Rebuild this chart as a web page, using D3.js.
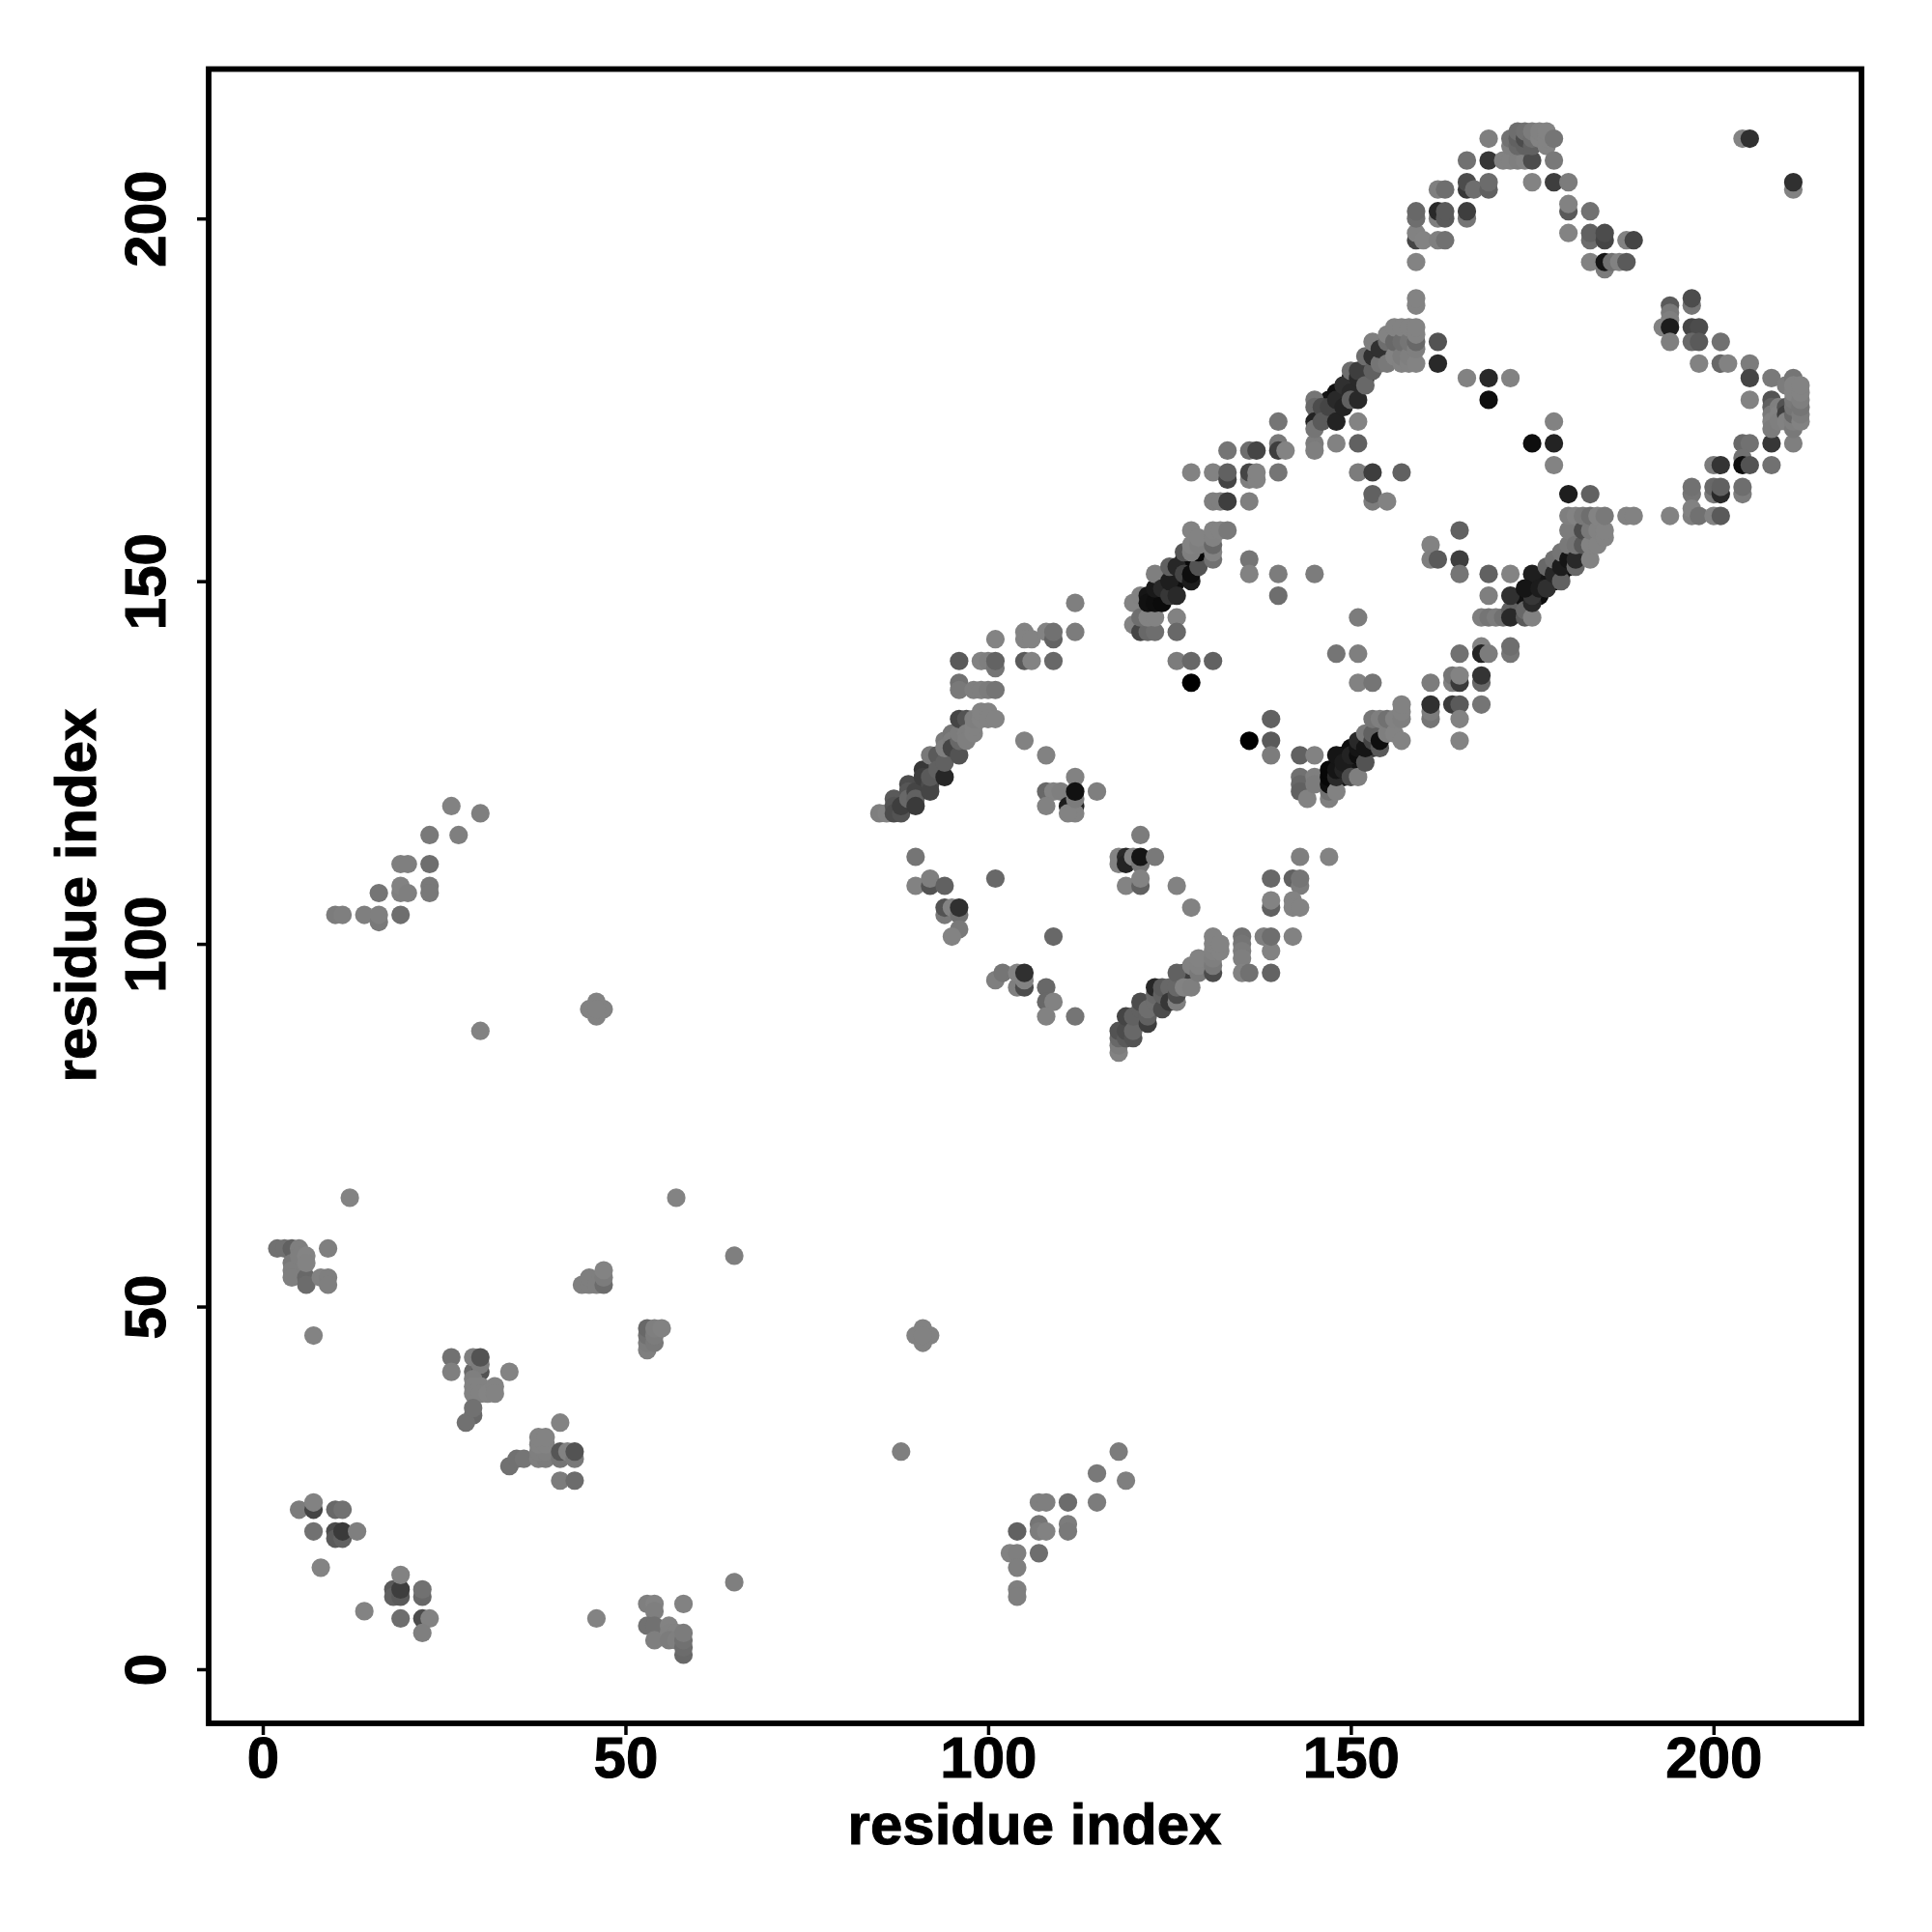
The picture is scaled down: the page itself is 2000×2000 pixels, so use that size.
<!DOCTYPE html>
<html><head><meta charset="utf-8">
<script src="https://cdn.jsdelivr.net/npm/d3@7"></script>
<style>html,body{margin:0;padding:0;background:#fff}svg{display:block}</style>
</head><body><svg id="c" width="2000" height="2000"></svg>
<script>
// each contact: [residue i, residue j, strength 0 (light) .. 100 (black)]
const lowLeftTop = [[12,65,5],[57,65,5],[2,58,18],[3,58,18],[4,58,30],[4,56,12],[4,55,8],[4,54,8],[6,54,25],[6,53,22],[8,54,6],[9,54,8],[9,53,8],[5,58,8],[5,57,8],[6,57,4],[6,56,5],[9,58,8],[7,46,5]];
const lowLeftBottom = [[5,22,10],[7,22,50],[7,23,6],[10,22,25],[11,22,18],[7,19,18],[10,19,45],[10,18,35],[11,18,30],[11,19,58],[13,19,8],[8,14,5],[14,8,5],[18,11,35],[18,10,30],[19,10,35],[19,11,55],[19,13,6],[22,10,25],[22,11,18],[19,7,20],[22,7,45],[23,7,6],[22,5,8],[46,7,5]];
const low30 = [[26,43,18],[26,41,8],[29,41,25],[29,43,8],[30,41,40],[30,42,10],[30,43,40],[34,41,5],[29,40,8],[29,39,6],[29,38,6],[30,39,6],[30,38,6],[31,38,4],[32,39,5],[32,38,5],[29,35,25],[28,34,18],[29,36,18]];
const low40 = [[34,28,18],[35,29,18],[36,29,15],[38,29,8],[39,29,10],[38,30,8],[39,30,8],[38,31,5],[39,31,5],[38,32,5],[39,32,5],[41,29,15],[41,30,38],[42,30,6],[43,29,12],[43,30,40],[41,26,10],[43,26,22],[41,34,5]];
const low50 = [[44,53,8],[45,53,8],[45,54,8],[46,53,8],[47,53,22],[47,54,10],[47,55,5],[53,44,8],[53,45,10],[53,46,18],[53,47,25],[54,45,12],[54,46,10],[54,47,8],[55,47,6]];
const low55 = [[53,9,8],[54,9,5],[54,8,8],[53,6,18],[54,6,18],[54,4,8],[56,6,5],[56,5,6],[57,5,6],[56,4,10],[57,4,8],[58,9,6],[58,2,25],[58,3,22],[58,4,18],[58,5,10],[65,12,8],[65,57,8]];
const farLeft = [[10,104,10],[11,104,8],[14,104,8],[16,103,12],[16,104,8],[16,107,15],[19,104,20],[19,107,8],[19,108,6],[19,111,8],[20,107,8],[20,111,8],[23,111,20],[23,108,12],[23,107,12],[23,115,12],[27,115,8],[26,119,6],[30,118,8],[30,88,6],[45,91,6],[47,91,6],[46,92,6],[46,90,6],[46,91,6]];
const farRight = [[88,30,8],[90,46,6],[92,46,6],[91,47,6],[91,45,6],[91,46,6],[104,19,30],[103,16,6],[104,16,8],[104,14,8],[104,11,8],[104,10,8],[107,23,8],[108,23,8],[107,20,15],[107,19,10],[108,19,6],[107,16,20],[111,23,22],[111,20,10],[111,19,12],[115,27,12],[115,23,10],[118,30,10],[119,26,8]];

const diag90 = [[85,118,8],[86,118,6],[87,120,35],[87,119,40],[87,118,45],[88,118,40],[88,119,55],[89,122,45],[89,121,38],[89,120,25],[90,121,50],[90,120,30],[90,119,58],[91,124,60],[91,123,55],[92,122,45],[92,121,50],[92,123,35],[93,125,35],[92,126,12],[93,126,35],[93,124,30],[94,123,72],[94,125,30],[94,128,12],[94,127,8],[95,129,15],[95,128,10],[95,127,50],[96,126,40],[96,128,25],[96,129,10],[96,131,50],[97,131,40],[97,129,8],[97,128,8],[98,129,6],[98,130,6],[98,131,8],[99,131,5],[99,132,5],[100,132,5],[100,131,5],[101,131,5]];
const top95 = [[96,139,35],[96,136,18],[96,135,12],[98,135,8],[99,135,8],[100,135,10],[101,135,15],[99,139,6],[100,139,8],[101,138,15],[101,139,28],[101,142,5],[105,143,5],[105,142,5],[106,142,5],[105,139,35],[106,139,5],[109,139,25],[108,143,5],[109,142,28],[109,143,18],[112,143,10],[112,147,8]];
const inner110 = [[105,128,6],[108,126,6],[112,123,6],[108,121,25],[109,121,5],[110,121,8],[111,119,80],[112,119,75],[112,118,5],[111,118,5],[112,120,10],[112,121,88],[115,121,8],[108,119,6],[90,112,15],[90,108,6],[92,108,40],[92,109,8],[94,108,30],[101,109,25],[94,104,12],[94,105,40],[95,105,5],[96,104,18],[96,105,65],[96,102,12],[95,101,5],[109,101,25]];
const lower100 = [[101,95,8],[102,96,15],[104,94,8],[104,96,5],[105,94,45],[105,95,5],[105,96,65],[108,94,25],[108,92,25],[109,92,6],[108,90,6],[112,90,15]];
const inner120 = [[118,112,5],[118,111,5],[119,112,70],[119,111,75],[120,112,6],[121,111,15],[121,112,85],[123,112,12],[121,115,10],[119,108,5],[121,108,30],[121,109,5],[126,108,6],[128,105,6]];
const right140 = [[139,109,25],[142,109,30],[143,108,10],[143,109,15],[143,112,8],[147,112,5],[139,105,30],[139,106,5],[142,106,5],[142,105,5],[143,105,5],[135,101,18],[135,100,15],[135,99,10],[135,98,8],[135,96,6],[136,96,18],[138,101,8],[139,99,6],[139,101,20],[142,101,6],[139,96,28]];
const diag120 = [[118,85,6],[118,86,10],[118,87,25],[118,88,40],[119,87,35],[119,88,45],[119,90,50],[120,87,40],[120,88,25],[120,90,30],[121,91,30],[121,92,45],[122,89,55],[122,90,30],[122,91,20],[123,92,20],[123,93,25],[123,94,72],[124,91,45],[124,93,30],[124,94,35],[125,94,25],[125,92,60],[127,96,55],[126,92,8],[126,93,45],[126,94,25],[126,96,30],[127,94,6],[128,94,8],[128,97,6],[129,96,12],[129,97,6],[129,98,5],[131,96,45],[131,97,12],[131,98,8],[131,99,6],[131,100,5],[131,101,5],[132,99,5],[132,100,5]];
const diag130 = [[127,153,90],[128,153,92],[127,152,90],[126,150,90],[125,149,90],[124,148,92],[128,152,92],[126,151,90],[129,153,85],[120,147,5],[121,148,6],[120,144,5],[121,143,50],[122,143,25],[123,143,20],[121,145,20],[122,145,5],[123,145,5],[122,148,85],[122,147,88],[123,147,90],[124,147,92],[123,149,82],[123,151,8],[124,149,70],[125,148,60],[125,150,78],[125,152,30],[126,148,70],[126,145,6],[126,143,25],[126,152,72],[127,151,50],[127,154,38],[128,150,80],[128,151,90],[129,152,40],[129,154,95],[128,154,8],[128,155,5],[128,157,5],[129,155,8],[129,156,5],[131,153,18],[131,154,6],[131,155,25],[131,156,6],[131,157,5],[132,157,5],[133,157,12]];
const block135 = [[126,139,10],[128,139,25],[131,139,30],[128,136,100],[133,168,15],[136,168,20],[137,168,50],[128,165,6],[131,165,6],[133,164,50],[133,165,30],[136,164,8],[136,165,50],[137,164,5],[137,165,5],[140,165,15],[131,161,8],[132,161,8],[133,161,55],[136,161,8],[136,153,15],[136,151,6],[140,151,10],[145,151,10],[140,148,20],[140,172,15],[140,169,12],[140,168,55],[141,168,5],[145,169,10],[145,168,8]];
const mid150 = [[148,169,6],[151,169,30],[151,165,10],[153,165,55],[157,165,30],[153,161,10],[153,162,30],[155,161,6],[151,145,10],[148,140,15],[151,140,8],[151,136,6],[153,136,15],[139,131,30],[136,128,100],[139,128,35],[139,126,10],[143,126,30],[145,126,6]];
const diag150 = [[149,126,90],[150,125,92],[150,127,90],[149,123,85],[151,125,85],[152,128,90],[153,127,60],[143,123,18],[143,122,25],[143,121,30],[144,120,6],[145,123,8],[145,122,10],[147,120,8],[147,121,18],[147,122,90],[147,123,95],[147,124,95],[148,121,6],[148,123,70],[148,124,85],[148,126,85],[149,124,75],[149,125,80],[150,123,45],[150,126,75],[151,123,8],[151,126,90],[151,127,85],[151,128,70],[152,125,40],[152,127,85],[152,129,12],[153,128,50],[153,129,30],[154,127,35],[154,128,90],[153,131,15],[154,131,8],[155,129,8],[155,131,18],[156,129,5],[156,131,6],[157,128,5],[157,131,8],[157,132,6],[157,133,6]];
const right160 = [[161,155,6],[161,153,8],[162,153,35],[165,157,30],[165,153,55],[165,151,15],[161,136,10],[164,136,8],[164,137,15],[165,136,58],[165,137,5],[168,136,25],[168,137,62],[161,131,15],[161,132,10],[161,133,65],[164,133,58],[165,133,35],[168,133,15],[165,131,6],[165,128,5],[168,141,5],[168,140,75],[169,140,10],[172,140,15],[165,140,18]];
const diag175 = [[173,146,85],[174,147,88],[176,148,90],[177,150,90],[178,150,92],[179,151,90],[180,152,90],[181,154,85],[182,154,80],[176,150,85],[168,145,8],[169,145,15],[170,145,10],[171,145,18],[172,146,30],[172,145,70],[172,141,20],[172,148,65],[172,151,5],[169,151,30],[169,148,8],[174,145,35],[174,146,25],[175,145,6],[175,147,70],[175,148,60],[175,151,78],[174,149,85],[176,149,80],[177,149,65],[177,152,25],[178,151,72],[178,153,18],[179,150,30],[179,152,80],[179,154,15],[180,153,85],[180,155,12],[180,157,10],[180,159,8],[181,152,25],[181,153,70],[181,155,15],[181,159,5],[182,155,35],[182,157,45],[182,159,12],[183,153,5],[183,155,5],[183,157,12],[183,159,20],[184,155,5],[184,157,6],[184,159,5],[185,156,5],[185,157,5],[185,159,12],[188,159,6],[189,159,6],[180,162,78],[183,162,30],[178,166,5],[175,169,90],[178,169,75],[178,172,6],[169,175,90]];
const diag160 = [[147,175,85],[148,176,88],[149,176,90],[150,178,85],[151,177,90],[149,175,85],[152,179,88],[152,178,85],[153,180,85],[154,181,70],[145,175,15],[145,174,25],[145,172,75],[145,171,15],[146,174,45],[146,172,35],[147,174,50],[148,172,75],[148,175,70],[149,174,75],[149,177,65],[150,176,70],[150,175,30],[151,172,5],[151,175,70],[150,179,20],[151,178,70],[151,179,55],[152,177,25],[152,181,20],[153,179,30],[153,181,65],[153,183,8],[154,180,15],[154,182,65],[155,180,12],[155,183,20],[155,184,5],[156,181,5],[156,183,25],[156,185,5],[157,180,6],[157,181,10],[157,183,20],[157,185,5],[158,180,6],[158,181,8],[158,183,15],[158,185,5],[159,180,5],[159,182,8],[159,183,25],[159,184,5],[159,185,5],[159,188,5],[159,189,5],[162,183,40],[162,180,70]];
const inner170 = [[166,178,6],[169,178,70],[172,178,6]];
const top170 = [[159,194,5],[159,197,50],[159,198,6],[160,197,5],[162,197,8],[163,197,18],[159,200,20],[159,201,25],[162,200,8],[162,201,70],[163,200,35],[163,201,35],[166,200,15],[166,201,55],[162,204,8],[163,204,20],[166,204,60],[166,205,45],[167,204,20],[169,204,30],[169,205,22],[166,208,18],[169,208,60],[169,211,8],[171,208,6],[172,208,6],[173,208,8],[174,208,6],[175,208,45],[172,210,8],[172,211,18],[173,210,25],[173,211,30],[173,212,20],[174,210,30],[174,211,45],[174,212,18],[175,210,30],[175,211,20],[175,212,10],[176,211,5],[176,212,6],[177,210,5],[177,211,5],[177,212,5],[178,211,15],[178,208,12],[175,205,5],[178,205,55],[180,205,10]];
const down185 = [[180,201,35],[180,202,6],[180,198,5],[183,201,18],[183,197,22],[183,198,30],[185,197,50],[185,198,45],[188,197,6],[189,197,50],[183,194,6],[185,193,10],[185,194,85],[186,194,18],[187,194,6],[188,194,35],[204,211,5],[205,211,65],[211,204,6],[211,205,65]];
const rightArc = [[194,188,35],[194,187,12],[194,186,8],[193,185,6],[194,185,80],[194,183,8],[197,188,15],[197,189,45],[197,185,50],[198,185,45],[197,183,25],[198,183,35],[201,183,18],[198,180,6],[201,180,25],[202,180,6],[205,180,10],[205,178,50],[205,175,6],[208,178,12],[208,175,40],[204,169,25],[205,169,18],[208,169,60],[211,169,8],[204,167,18],[204,166,90],[205,166,40],[208,166,18],[200,166,10],[201,166,62],[197,162,15],[197,163,18],[200,162,12],[200,163,25],[201,162,70],[201,163,30],[204,162,10],[204,163,20],[194,159,6],[197,159,8],[197,160,6],[198,159,18],[200,159,6],[201,159,35]];
const rightBlob = [[208,174,30],[208,173,12],[208,172,6],[208,171,10],[209,174,8],[209,173,6],[209,172,8],[210,174,40],[210,173,55],[210,172,6],[210,177,10],[211,178,15],[211,171,12],[211,172,8],[211,173,25],[211,174,15],[211,175,12],[211,176,5],[211,177,5],[212,172,6],[212,173,10],[212,174,15],[212,175,8],[212,176,5],[212,177,5]];

const tickVals = [0, 50, 100, 150, 200];
const axisTitle = "residue index";

const contacts = [lowLeftTop, lowLeftBottom, low30, low40, low50, low55, farLeft, farRight, diag90, top95, inner110, lower100, inner120, right140, diag120, diag130, block135, mid150, diag150, right160, diag175, diag160, inner170, top170, down185, rightArc, rightBlob].flat();

const svg = d3.select("#c");
const L = 216, R = 1927, T = 71.5, B = 1784;
const x = d3.scaleLinear().domain([-7.46, 220.4]).range([L, R]);
const y = d3.scaleLinear().domain([-7.46, 220.6]).range([B, T]);
const shade = d3.scaleLinear().domain([0, 100]).range([138, 0]);

svg.append("g").selectAll("circle").data(contacts).join("circle")
  .attr("cx", d => x(d[0])).attr("cy", d => y(d[1])).attr("r", 9.6)
  .attr("fill", d => { const g = Math.round(shade(d[2])); return `rgb(${g},${g},${g})`; });

const font = "'Liberation Sans', Arial, sans-serif";
const gx = svg.append("g").attr("transform", `translate(0,${B})`)
  .call(d3.axisBottom(x).tickValues(tickVals).tickSize(12).tickPadding(12).tickFormat(d3.format("d")));
const gy = svg.append("g").attr("transform", `translate(${L},0)`)
  .call(d3.axisLeft(y).tickValues(tickVals).tickSize(12).tickFormat(d3.format("d")));
[gx, gy].forEach(g => {
  g.select(".domain").remove();
  g.selectAll("line").attr("stroke", "#000").attr("stroke-width", 3.5);
  g.selectAll("text").attr("fill", "#000").attr("stroke", "#000").attr("stroke-width", 1).attr("font-family", font).attr("font-weight", 700).attr("font-size", 60);
});
gx.selectAll("text").attr("y", 0).attr("dy", 0).attr("transform", "translate(0,56)");
gy.selectAll("text").attr("x", 0).attr("dy", 0).attr("text-anchor", "middle")
  .attr("transform", "translate(-45,0) rotate(-90)");

svg.append("rect").attr("x", L).attr("y", T).attr("width", R - L).attr("height", B - T)
  .attr("fill", "none").attr("stroke", "#000").attr("stroke-width", 5.8);

svg.append("text").attr("x", 1071).attr("y", 1909).attr("text-anchor", "middle")
  .attr("font-family", font).attr("font-weight", 700).attr("font-size", 60).attr("stroke", "#000").attr("stroke-width", 1).text(axisTitle);
svg.append("text").attr("transform", "translate(99,927) rotate(-90)").attr("text-anchor", "middle")
  .attr("font-family", font).attr("font-weight", 700).attr("font-size", 60).attr("stroke", "#000").attr("stroke-width", 1).text(axisTitle);
</script></body></html>
